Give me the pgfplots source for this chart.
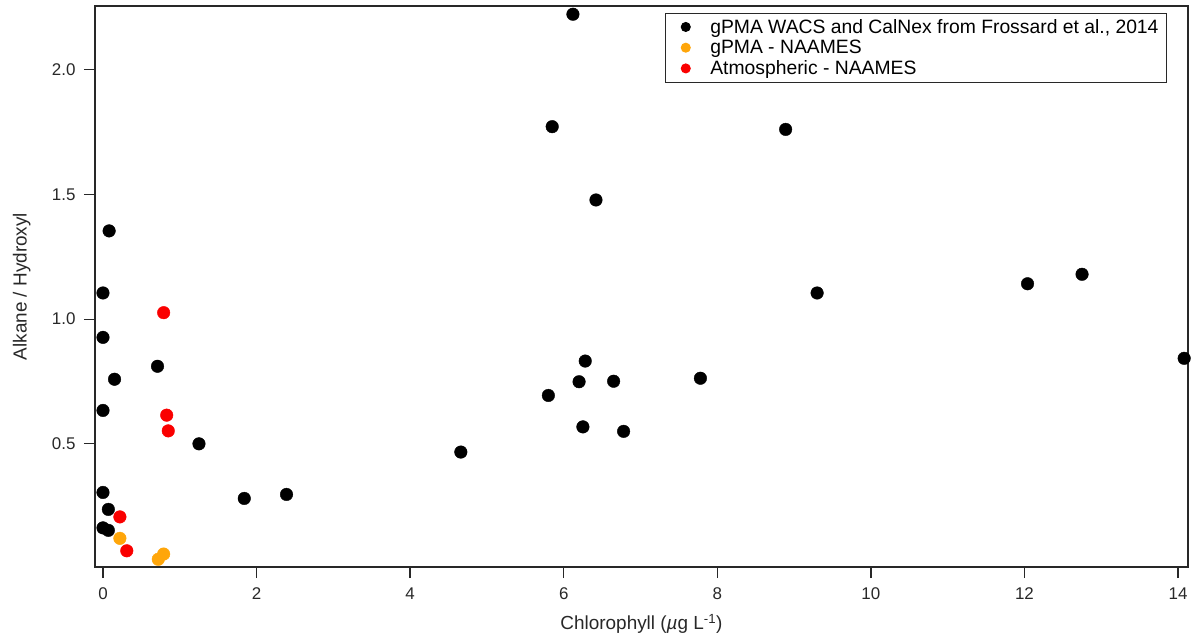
\documentclass[border=0pt]{standalone}
\usepackage{fontspec}
\setmainfont{Liberation Sans}
\usepackage{pgfplots}
\pgfplotsset{compat=1.18}

\definecolor{dotorange}{RGB}{255,166,10}
\definecolor{dotred}{RGB}{250,0,0}
\definecolor{axisgray}{RGB}{40,40,40}

\begin{document}
\begin{tikzpicture}
\useasboundingbox (-95bp,-73bp) rectangle (1099bp,567bp);
\begin{axis}[
    at={(0,0)}, anchor=south west,
    scale only axis,
    width=1093bp, height=561bp,
    xmin=-0.104, xmax=14.13,
    ymin=0.006, ymax=2.256,
    xtick={0,2,...,14},
    ytick={0.5,1.0,1.5,2.0},
    yticklabel style={xshift=-5bp, /pgf/number format/.cd, fixed, fixed zerofill, precision=1},
    /pgf/number format/assume math mode=true,
    tick label style={font=\fontsize{17}{20}\selectfont, text=axisgray},
    xticklabel style={yshift=-6bp},
    tick align=outside,
    tick pos=left,
    major tick length=11bp,
    axis line style={axisgray, line width=1.3bp},
    every tick/.style={axisgray, line width=1.3bp},
    xlabel={Chlorophyll ({\itshape µ}g L\textsuperscript{-1})},
    ylabel={Alkane / Hydroxyl},
    label style={font=\fontsize{19}{22}\selectfont, text=axisgray},
    xlabel style={at={(axis description cs:0.5,0)}, anchor=north, yshift=-44bp},
    ylabel style={at={(axis description cs:0,0.5)}, anchor=south, yshift=61bp},
    clip=false,
    legend style={at={(0.9808,0.988)}, anchor=north east,
        font=\fontsize{19.4}{20}\selectfont, draw=axisgray, line width=1bp,
        inner xsep=6bp, inner ysep=4bp, row sep=1.5bp, cells={anchor=west}},
    legend image code/.code={
        \path (0bp,0bp) (36bp,0bp);
        \draw[#1, mark size=4.5bp] plot coordinates {(14bp,0bp)};},
]
\addplot[only marks, mark=*, mark size=6.3bp, black] coordinates {
    (6.12,2.223) (5.85,1.772) (8.89,1.761) (6.42,1.478) (0.08,1.354)
    (0.00,1.105) (9.30,1.105) (12.04,1.142) (12.75,1.180) (0.00,0.927)
    (6.28,0.832) (0.71,0.811) (0.15,0.759) (0.00,0.634) (1.25,0.500)
    (5.80,0.694) (6.20,0.749) (6.65,0.751) (7.78,0.763) (14.08,0.843)
    (6.25,0.568) (6.78,0.550) (4.66,0.467) (1.84,0.281) (2.39,0.297)
    (0.00,0.305) (0.07,0.237) (0.00,0.163) (0.07,0.153)
};
\addlegendentry{gPMA WACS and CalNex from Frossard et al., 2014}
\addplot[only marks, mark=*, mark size=6.3bp, dotorange] coordinates {
    (0.22,0.121) (0.72,0.037) (0.79,0.058)
};
\addlegendentry{gPMA - NAAMES}
\addplot[only marks, mark=*, mark size=6.3bp, dotred] coordinates {
    (0.22,0.207) (0.31,0.071) (0.79,1.026) (0.83,0.615) (0.85,0.552)
};
\addlegendentry{Atmospheric - NAAMES}
\end{axis}
\end{tikzpicture}
\end{document}
